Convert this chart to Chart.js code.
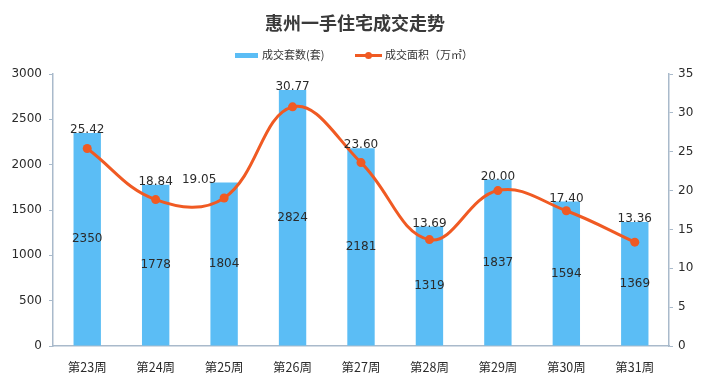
<!DOCTYPE html>
<html>
<head>
<meta charset="utf-8">
<script src="https://cdn.jsdelivr.net/npm/chart.js@4"></script>
<style>
  html, body { margin: 0; padding: 0; background: #fff; }
  #wrap { width: 708px; height: 387px; }
</style>
</head>
<body>
<div id="wrap"><canvas id="c" width="708" height="387"></canvas></div>
<script>
// 惠州一手住宅成交走势 — weekly units vs area
const weeks = ['第23周', '第24周', '第25周', '第26周', '第27周', '第28周', '第29周', '第30周', '第31周'];
const units = [2350, 1778, 1804, 2824, 2181, 1319, 1837, 1594, 1369];      // 成交套数(套)
const area  = [25.42, 18.84, 19.05, 30.77, 23.60, 13.69, 20.00, 17.40, 13.36]; // 成交面积（万㎡）
const leftTicks = [0, 500, 1000, 1500, 2000, 2500, 3000];
const rightTicks = [0, 5, 10, 15, 20, 25, 30, 35];

const BAR = '#5BBDF5';
const LINE = '#F05A23';
const AXIS = '#A9BACB';
const TXT = '#2b2b2b';
const FONT = '"DejaVu Sans", "Noto Sans CJK SC", sans-serif';
const CJK = '"Noto Sans CJK SC", sans-serif';

// title + hand drawn legend (bar swatch is a flat strip, line swatch has a dot)
const headerPlugin = {
  id: 'header',
  afterDraw(chart) {
    const ctx = chart.ctx;
    ctx.save();
    ctx.fillStyle = '#3a3a3a';
    ctx.font = 'bold 18px ' + CJK;
    ctx.textAlign = 'center';
    ctx.textBaseline = 'middle';
    ctx.fillText('惠州一手住宅成交走势', 355, 23);

    ctx.font = '11px ' + CJK;
    ctx.textAlign = 'left';
    ctx.fillStyle = BAR;
    ctx.fillRect(235, 53, 23, 5);
    ctx.fillStyle = '#333';
    ctx.fillText('成交套数(套)', 262, 55);

    ctx.strokeStyle = LINE;
    ctx.lineWidth = 3;
    ctx.beginPath(); ctx.moveTo(355, 55.5); ctx.lineTo(382, 55.5); ctx.stroke();
    ctx.fillStyle = LINE;
    ctx.beginPath(); ctx.arc(368.5, 55.5, 3.5, 0, Math.PI * 2); ctx.fill();
    ctx.fillStyle = '#333';
    ctx.fillText('成交面积（万㎡）', 385, 55);
    ctx.restore();
  }
};

// values: units in the middle of each bar, area just above each bar top
const labelShift = { 2: -25 };
const valuePlugin = {
  id: 'values',
  afterDatasetsDraw(chart) {
    const ctx = chart.ctx;
    const bars = chart.getDatasetMeta(0).data;
    ctx.save();
    ctx.font = '12px ' + FONT;
    ctx.fillStyle = TXT;
    ctx.textAlign = 'center';
    bars.forEach((b, i) => {
      ctx.textBaseline = 'middle';
      ctx.fillText(String(units[i]), b.x, (b.y + b.base) / 2);
      ctx.textBaseline = 'bottom';
      ctx.fillText(area[i].toFixed(2), b.x + (labelShift[i] || 0), b.y + 3);
    });
    ctx.restore();
  }
};

new Chart(document.getElementById('c'), {
  data: {
    labels: weeks,
    datasets: [
      { type: 'bar', label: '成交套数(套)', data: units, yAxisID: 'y', backgroundColor: BAR,
        barPercentage: 0.4, categoryPercentage: 1, order: 1 },
      { type: 'line', label: '成交面积（万㎡）', data: area, yAxisID: 'y1', borderColor: LINE,
        backgroundColor: LINE, borderWidth: 3, tension: 0.4, pointRadius: 4.5,
        pointBackgroundColor: LINE, pointBorderWidth: 0, order: 0 },
    ],
  },
  options: {
    responsive: false,
    animation: false,
    layout: { padding: { top: 74, left: 0, right: 0, bottom: 0 } },
    plugins: { legend: { display: false }, title: { display: false }, tooltip: { enabled: false } },
    scales: {
      x: {
        grid: { display: false },
        border: { color: AXIS, width: 1.5 },
        ticks: { color: TXT, font: { family: CJK, size: 12.5 }, padding: 6 },
        afterFit: s => { s.height = 41; },
      },
      y: {
        position: 'left', min: 0, max: 3000,
        afterBuildTicks: s => { s.ticks = leftTicks.map(v => ({ value: v })); },
        grid: { drawOnChartArea: false, color: AXIS, tickLength: 4 },
        border: { color: AXIS, width: 1.5 },
        ticks: { color: TXT, font: { family: FONT, size: 12 }, padding: 7, callback: v => String(v) },
        afterFit: s => { s.width = 53; },
      },
      y1: {
        position: 'right', min: 0, max: 35,
        afterBuildTicks: s => { s.ticks = rightTicks.map(v => ({ value: v })); },
        grid: { drawOnChartArea: false, color: AXIS, tickLength: 4 },
        border: { color: AXIS, width: 1.5 },
        ticks: { color: TXT, font: { family: FONT, size: 12 }, padding: 5, callback: v => String(v) },
        afterFit: s => { s.width = 39; },
      },
    },
  },
  plugins: [headerPlugin, valuePlugin],
});
</script>
</body>
</html>
